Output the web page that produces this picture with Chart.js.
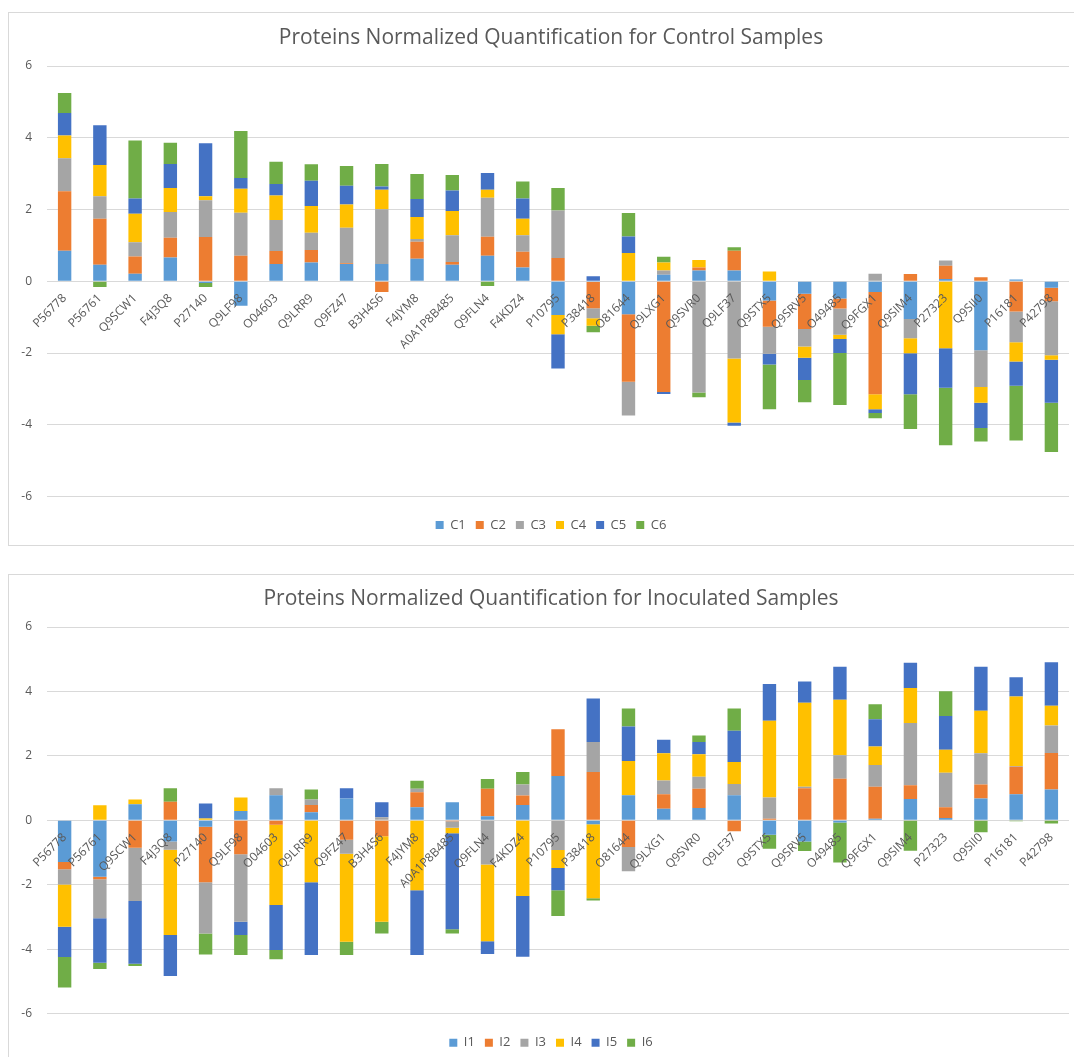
<!DOCTYPE html>
<html lang="en">
<head>
<meta charset="UTF-8">
<title>Proteins Normalized Quantification</title>
<script src="https://cdn.jsdelivr.net/npm/chart.js"></script>
<style>
  body { margin: 0; background: #fff; width: 1074px; height: 1057px; overflow: hidden; position: relative; }
  .panel { position: absolute; border: 1px solid #d9d9d9; box-sizing: border-box; }
  canvas { position: absolute; }
</style>
</head>
<body>
<div class="panel" style="left:8px;top:12px;width:1090px;height:534px"></div>
<div class="panel" style="left:8px;top:574px;width:1090px;height:500px"></div>
<canvas id="controlChart" width="1086" height="536" style="left:8px;top:10px"></canvas>
<canvas id="inocChart" width="1086" height="490" style="left:8px;top:574px"></canvas>
<script>
const proteins = ['P56778', 'P56761', 'Q9SCW1', 'F4J3Q8', 'P27140', 'Q9LF98', 'O04603', 'Q9LRR9',
  'Q9FZ47', 'B3H4S6', 'F4JYM8', 'A0A1P8B485', 'Q9FLN4', 'F4KDZ4', 'P10795', 'P38418', 'O81644',
  'Q9LXG1', 'Q9SVR0', 'Q9LF37', 'Q9STX5', 'Q9SRV5', 'O49485', 'Q9FGX1', 'Q9SIM4', 'P27323',
  'Q9SII0', 'P16181', 'P42798'];

// control samples
const c1 = [0.85, 0.46, 0.21, 0.66, -0.05, -0.68, 0.48, 0.52, 0.48, 0.48, 0.63, 0.46, 0.71, 0.38, -0.94, -0.02, -0.92, 0.18, 0.30, 0.30, -0.54, -0.35, -0.48, -0.30, -1.05, 0.06, -1.92, 0.05, -0.18];
const c2 = [1.66, 1.28, 0.48, 0.55, 1.23, 0.71, 0.36, 0.35, 0.02, -0.30, 0.47, 0.08, 0.53, 0.44, 0.65, -0.73, -1.88, -3.09, 0.08, 0.55, -0.73, -0.98, -0.28, -2.85, 0.20, 0.37, 0.11, -0.84, -0.38];
const c3 = [0.92, 0.63, 0.40, 0.72, 1.03, 1.20, 0.87, 0.48, 0.99, 1.53, 0.08, 0.74, 1.09, 0.46, 1.32, -0.28, -0.94, 0.12, -3.10, -2.15, -0.75, -0.49, -0.73, 0.21, -0.54, 0.15, -1.03, -0.86, -1.50];
const c4 = [0.63, 0.87, 0.79, 0.67, 0.11, 0.67, 0.68, 0.75, 0.65, 0.54, 0.61, 0.68, 0.22, 0.46, -0.54, -0.21, 0.79, 0.22, 0.21, -1.79, 0.27, -0.31, -0.12, -0.42, -0.42, -1.87, -0.44, -0.54, -0.13];
const c5 = [0.63, 1.11, 0.43, 0.67, 1.48, 0.30, 0.32, 0.70, 0.52, 0.09, 0.50, 0.57, 0.47, 0.57, -0.95, 0.14, 0.46, -0.05, 0, -0.09, -0.30, -0.62, -0.39, -0.10, -1.14, -1.10, -0.70, -0.67, -1.20];
const c6 = [0.56, -0.16, 1.61, 0.59, -0.11, 1.31, 0.62, 0.46, 0.55, 0.63, 0.70, 0.43, -0.13, 0.47, 0.63, -0.18, 0.65, 0.16, -0.13, 0.10, -1.25, -0.62, -1.45, -0.15, -0.97, -1.60, -0.38, -1.53, -1.37];

// inoculated samples
const i1 = [-1.29, -1.75, 0.50, -0.66, -0.20, 0.29, 0.78, 0.25, 0.68, 0, 0.41, 0.56, 0.13, 0.48, 1.38, -0.12, 0.78, 0.36, 0.38, 0.78, -0.45, -0.66, -0.07, 0.05, 0.66, 0.07, 0.68, 0.81, 0.96];
const i2 = [-0.23, -0.08, -0.85, 0.58, -1.72, -1.05, -0.14, 0.23, -0.60, -0.49, 0.46, -0.03, 0.85, 0.29, 1.45, 1.50, -0.83, 0.45, 0.60, -0.34, 0.05, 1.00, 1.29, 0.99, 0.43, 0.34, 0.43, 0.85, 1.13];
const i3 = [-0.47, -1.21, -1.65, -0.25, -1.59, -2.10, 0.22, 0.17, -0.44, 0.10, 0.11, -0.20, -1.37, 0.34, -0.92, 0.93, -0.75, 0.43, 0.37, 0.35, 0.66, 0.04, 0.73, 0.68, 1.93, 1.07, 0.97, 0.03, 0.85];
const i4 = [-1.31, 0.47, 0.15, -2.65, 0.06, 0.42, -2.49, -1.92, -2.73, -2.66, -2.17, -0.17, -2.38, -2.35, -0.56, -2.30, 1.06, 0.84, 0.70, 0.68, 2.38, 2.61, 1.72, 0.57, 1.09, 0.71, 1.32, 2.15, 0.62];
const i5 = [-0.94, -1.38, -1.95, -1.27, 0.46, -0.41, -1.39, -2.26, 0.32, 0.46, -2.01, -2.98, -0.40, -1.88, -0.69, 1.35, 1.07, 0.42, 0.38, 0.97, 1.14, 0.66, 1.03, 0.85, 0.78, 1.05, 1.37, 0.60, 1.35];
const i6 = [-0.95, -0.19, -0.07, 0.42, -0.65, -0.62, -0.29, 0.31, -0.41, -0.36, 0.25, -0.13, 0.30, 0.39, -0.80, -0.07, 0.56, 0, 0.20, 0.69, -0.43, -0.29, -1.24, 0.46, -0.94, 0.77, -0.37, -0.03, -0.10];

const yTicks = [-6, -4, -2, 0, 2, 4, 6];
const colors = ['#5B9BD5', '#ED7D31', '#A5A5A5', '#FFC000', '#4472C4', '#70AD47'];
const textColor = '#595959';
const fontFamily = "'Open Sans', 'Noto Sans', sans-serif";

Chart.defaults.font.family = fontFamily;
Chart.defaults.color = textColor;

// empty axis used only to reserve space
function spacer(axis, position, size) {
  return {
    type: 'linear',
    axis: axis,
    position: position,
    display: true,
    ticks: { display: false },
    grid: { display: false },
    border: { display: false },
    afterFit: s => { if (axis === 'x') s.height = size; else s.width = size; }
  };
}

function makeChart(id, title, names, series, lay) {
  const datasets = series.map((vals, k) => ({
    label: names[k],
    data: vals,
    backgroundColor: colors[k],
    borderWidth: 0,
    xAxisID: 'x',
    yAxisID: 'y',
    barPercentage: 0.38,
    categoryPercentage: 1
  }));
  return new Chart(document.getElementById(id), {
    type: 'bar',
    data: { labels: proteins, datasets: datasets },
    options: {
      responsive: false,
      animation: false,
      layout: { padding: { left: 0, right: 0, top: 0, bottom: lay.bottomPad } },
      plugins: {
        title: {
          display: true,
          text: title,
          color: textColor,
          font: { size: 21, weight: 'normal' },
          padding: { top: lay.titleTop, bottom: lay.titleBottom }
        },
        legend: {
          position: 'bottom',
          labels: { boxWidth: 8, boxHeight: 8, padding: 10, color: textColor, font: { size: 13 } }
        },
        tooltip: { enabled: false }
      },
      scales: {
        x: {
          stacked: true,
          position: { y: 0 },
          grid: { display: false },
          border: { display: false },
          ticks: { z: 1, autoSkip: false, minRotation: 45, maxRotation: 45, color: textColor, font: { size: 12 }, padding: 2 }
        },
        gapBottom: spacer('x', 'bottom', lay.gap),
        gapRight: spacer('y', 'right', 25),
        y: {
          stacked: true,
          min: yTicks[0],
          max: yTicks[yTicks.length - 1],
          afterFit: s => { s.width = 39; },
          afterBuildTicks: s => { s.ticks = yTicks.map(v => ({ value: v })); },
          grid: { color: '#d9d9d9', drawTicks: false },
          border: { display: false },
          ticks: { color: textColor, font: { size: 12 }, padding: 15 }
        }
      }
    }
  });
}

makeChart('controlChart', 'Proteins Normalized Quantification for Control Samples',
  ['C1', 'C2', 'C3', 'C4', 'C5', 'C6'], [c1, c2, c3, c4, c5, c6],
  { titleTop: 15, titleBottom: 15.8, gap: 12, bottomPad: 4.5 });

makeChart('inocChart', 'Proteins Normalized Quantification for Inoculated Samples',
  ['I1', 'I2', 'I3', 'I4', 'I5', 'I6'], [i1, i2, i3, i4, i5, i6],
  { titleTop: 12, titleBottom: 15.8, gap: 12.5, bottomPad: 4.8 });
</script>
</body>
</html>
